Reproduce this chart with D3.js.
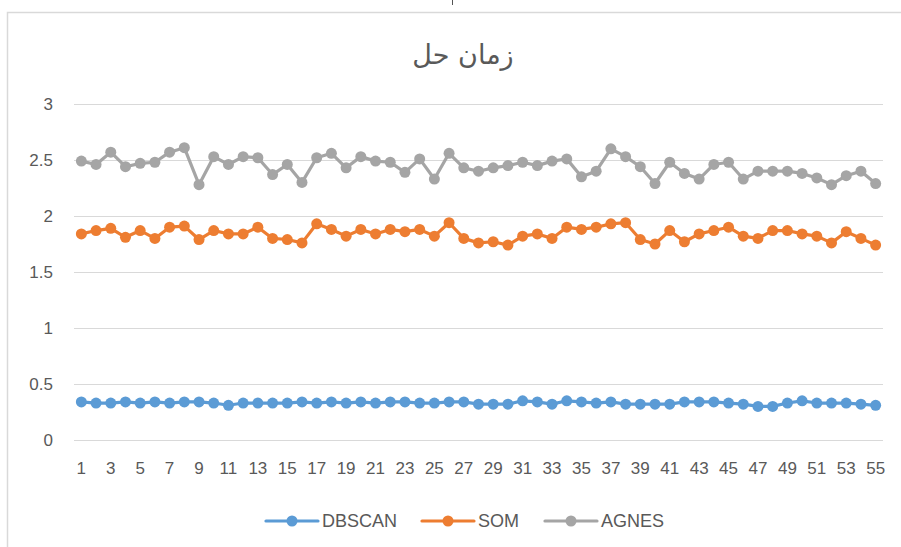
<!DOCTYPE html>
<html>
<head>
<meta charset="utf-8">
<script src="https://cdn.jsdelivr.net/npm/d3@7"></script>
<style>
  html, body { margin: 0; padding: 0; background: #fff; }
  svg { display: block; }
</style>
</head>
<body>
<div id="root"></div>
<script>
const categories = d3.range(1, 56);
const tickLabels = categories.filter(d => d % 2 === 1);
const yTicks = [0, 0.5, 1, 1.5, 2, 2.5, 3];

const dbscan = [0.34, 0.33, 0.33, 0.34, 0.33, 0.34, 0.33, 0.34, 0.34, 0.33,
    0.31, 0.33, 0.33, 0.33, 0.33, 0.34, 0.33, 0.34, 0.33, 0.34,
    0.33, 0.34, 0.34, 0.33, 0.33, 0.34, 0.34, 0.32, 0.32, 0.32,
    0.35, 0.34, 0.32, 0.35, 0.34, 0.33, 0.34, 0.32, 0.32, 0.32,
    0.32, 0.34, 0.34, 0.34, 0.33, 0.32, 0.30, 0.30, 0.33, 0.35,
    0.33, 0.33, 0.33, 0.32, 0.31];
const som = [1.84, 1.87, 1.89, 1.81, 1.87, 1.80, 1.90, 1.91, 1.79, 1.87,
    1.84, 1.84, 1.90, 1.80, 1.79, 1.76, 1.93, 1.88, 1.82, 1.88,
    1.84, 1.88, 1.86, 1.88, 1.82, 1.94, 1.80, 1.76, 1.77, 1.74,
    1.82, 1.84, 1.80, 1.90, 1.88, 1.90, 1.93, 1.94, 1.79, 1.75,
    1.87, 1.77, 1.84, 1.87, 1.90, 1.82, 1.80, 1.87, 1.87, 1.84,
    1.82, 1.76, 1.86, 1.80, 1.74];
const agnes = [2.49, 2.46, 2.57, 2.44, 2.47, 2.48, 2.57, 2.61, 2.28, 2.53,
    2.46, 2.53, 2.52, 2.37, 2.46, 2.30, 2.52, 2.56, 2.43, 2.53,
    2.49, 2.48, 2.39, 2.51, 2.33, 2.56, 2.43, 2.40, 2.43, 2.45,
    2.48, 2.45, 2.49, 2.51, 2.35, 2.40, 2.60, 2.53, 2.44, 2.29,
    2.48, 2.38, 2.33, 2.46, 2.48, 2.33, 2.40, 2.40, 2.40, 2.38,
    2.34, 2.28, 2.36, 2.40, 2.29];

const seriesNames = ['DBSCAN', 'SOM', 'AGNES'];
const seriesColors = ['#5B9BD5', '#ED7D31', '#A5A5A5'];
const seriesValues = [dbscan, som, agnes];

const width = 901, height = 547;
const margin = { top: 104, right: 18, bottom: 107, left: 74 };
const innerW = width - margin.left - margin.right;
const innerH = height - margin.top - margin.bottom;

const svg = d3.select('#root').append('svg')
    .attr('width', width)
    .attr('height', height)
    .attr('xmlns', 'http://www.w3.org/2000/svg');

// рамка области диаграммы
svg.append('rect')
    .attr('x', 7.5).attr('y', 12.5)
    .attr('width', 920).attr('height', 560)
    .attr('fill', '#fff')
    .attr('stroke', '#d9d9d9')
    .attr('stroke-width', 1.5);

svg.append('line')
    .attr('x1', 452.5).attr('x2', 452.5)
    .attr('y1', 0).attr('y2', 5)
    .attr('stroke', '#555').attr('stroke-width', 1);

svg.append('text')
    .attr('x', 463)
    .attr('y', 64)
    .attr('text-anchor', 'middle')
    .attr('font-family', '"DejaVu Sans", "Noto Sans", sans-serif')
    .attr('font-size', 27)
    .attr('fill', '#595959')
    .text('زمان حل');

const g = svg.append('g')
    .attr('transform', `translate(${margin.left},${margin.top})`);

const x = d3.scaleBand()
    .domain(categories)
    .range([0, innerW]);

const y = d3.scaleLinear()
    .domain([0, 3])
    .range([innerH, 0]);

const font = '"Liberation Sans", Arial, sans-serif';

// сетка и ось Y
const gy = g.append('g')
    .call(d3.axisLeft(y).tickValues(yTicks).tickSize(-innerW).tickPadding(21).tickFormat(d3.format('')));
gy.select('.domain').remove();
gy.selectAll('.tick line').attr('stroke', '#d9d9d9').attr('stroke-width', 1.2);
gy.selectAll('.tick text')
    .attr('font-family', font)
    .attr('font-size', 17)
    .attr('fill', '#595959');

// ось X
const gx = g.append('g')
    .attr('transform', `translate(0,${innerH})`)
    .call(d3.axisBottom(x).tickValues(tickLabels).tickSize(0).tickPadding(22));
gx.select('.domain').remove();
gx.selectAll('.tick text')
    .attr('font-family', font)
    .attr('font-size', 17)
    .attr('fill', '#595959');

const cx = d => x(d) + x.bandwidth() / 2;

const line = d3.line()
    .x((v, i) => cx(categories[i]))
    .y(v => y(v));

seriesValues.forEach((vals, si) => {
    g.append('path')
        .datum(vals)
        .attr('d', line)
        .attr('fill', 'none')
        .attr('stroke', seriesColors[si])
        .attr('stroke-width', 3.2)
        .attr('stroke-linejoin', 'round');
    g.append('g')
        .selectAll('circle')
        .data(vals)
        .join('circle')
        .attr('cx', (v, i) => cx(categories[i]))
        .attr('cy', v => y(v))
        .attr('r', 5.5)
        .attr('fill', seriesColors[si]);
});

// легенда
const legendX = [266, 422, 545];
const legendY = 521;
seriesNames.forEach((name, i) => {
    const lg = svg.append('g').attr('transform', `translate(${legendX[i]},${legendY})`);
    lg.append('line')
        .attr('x1', 0).attr('x2', 52)
        .attr('stroke', seriesColors[i])
        .attr('stroke-width', 3.2)
        .attr('stroke-linecap', 'round');
    lg.append('circle')
        .attr('cx', 26).attr('r', 5.5)
        .attr('fill', seriesColors[i]);
    lg.append('text')
        .attr('x', 56)
        .attr('dy', '0.35em')
        .attr('font-family', font)
        .attr('font-size', 18)
        .attr('fill', '#595959')
        .text(name);
});
</script>
</body>
</html>
